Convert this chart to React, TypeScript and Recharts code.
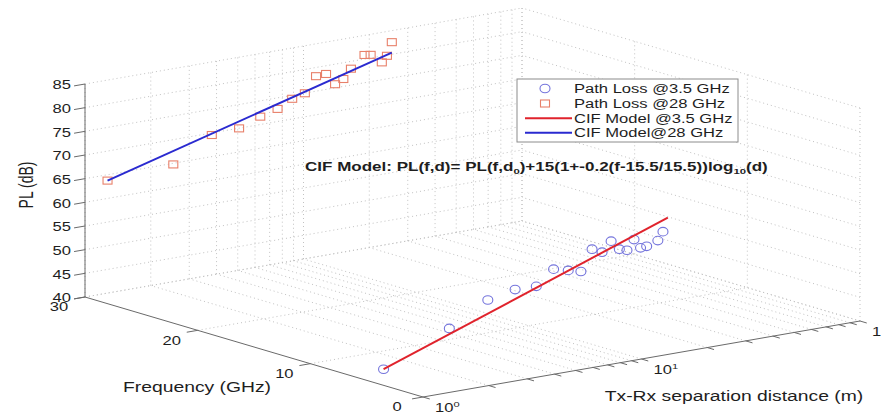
import React, { useLayoutEffect, useRef, useState } from 'react';
import { ScatterChart, Scatter, XAxis, YAxis, ReferenceLine } from 'recharts';

// ---------- data ----------
const distance35 = [1, 2, 3, 4, 5, 6, 7, 8, 9, 10, 11, 12, 13, 14, 15, 16, 18, 19];
const pathLoss35 = [43.4, 49.6, 54.2, 55.4, 55.3, 58.3, 57.5, 56.8, 61.1, 60.1, 62.1, 60.1, 59.6, 61.6, 59.6, 59.7, 60.5, 62.2];
const distance28 = [1, 2, 3, 4, 5, 6, 7, 8, 9, 10, 11, 12, 13, 15, 16, 18, 19, 20];
const pathLoss28 = [66.0, 67.0, 71.8, 72.2, 73.9, 74.9, 76.5, 77.2, 80.4, 80.5, 78.0, 78.8, 80.7, 83.1, 82.9, 80.9, 82.1, 84.8];
const modelDistance = [1, 20];
const model35 = [43.4, 65.0];
const model28 = [66.0, 82.6];
const freqLow = 3.5;
const freqHigh = 28;

const plTicks = [40, 45, 50, 55, 60, 65, 70, 75, 80, 85];
const freqTicks = [0, 10, 20, 30];
const distTicks = [1, 2, 3, 4, 5, 6, 7, 8, 9, 10, 20, 30, 40, 50, 60, 70, 80, 90, 100];
const distMajor = [1, 10, 100];
const distExponents = ['0', '1', '2'];
const legendLabels = ['Path Loss @3.5 GHz', 'Path Loss @28 GHz', 'CIF Model @3.5 GHz', 'CIF Model@28 GHz'];

// ---------- 3D view projection (page pixel space) ----------
const D_MIN = 1, D_MAX = 100, F_MIN = 0, F_MAX = 30, PL_MIN = 40, PL_MAX = 85;
function project(d: number, f: number, pl: number) {
  const u = (Math.log10(d) - Math.log10(D_MIN)) / (Math.log10(D_MAX) - Math.log10(D_MIN));
  const v = (f - F_MIN) / (F_MAX - F_MIN);
  const w = (pl - PL_MIN) / (PL_MAX - PL_MIN);
  return { x: 423 + 437 * u - 338 * v, y: 397 - 76 * u - 100 * v - 213 * w };
}

const W = 881, H = 407, OFF = 8;
const FONT = 'Arial, "Liberation Sans", Helvetica, sans-serif';
const SX = 1.38;
const TXT = '#1e1e1e';

type Seg = [{ x: number; y: number }, { x: number; y: number }];
const seg = (a: { x: number; y: number }, b: { x: number; y: number }): Seg => [a, b];

// gridlines
const grid: Seg[] = [];
// floor (PL = 40)
freqTicks.forEach((f) => { if (f > 0) grid.push(seg(project(D_MIN, f, PL_MIN), project(D_MAX, f, PL_MIN))); });
distTicks.forEach((d) => { if (d > 1) grid.push(seg(project(d, F_MIN, PL_MIN), project(d, F_MAX, PL_MIN))); });
// back-left wall (f = 30)
distTicks.forEach((d) => grid.push(seg(project(d, F_MAX, PL_MIN), project(d, F_MAX, PL_MAX))));
plTicks.forEach((p) => grid.push(seg(project(D_MIN, F_MAX, p), project(D_MAX, F_MAX, p))));
// back-right wall (d = 100)
freqTicks.forEach((f) => grid.push(seg(project(D_MAX, f, PL_MIN), project(D_MAX, f, PL_MAX))));
plTicks.forEach((p) => grid.push(seg(project(D_MAX, F_MIN, p), project(D_MAX, F_MAX, p))));

// axes and ticks
const axes: Seg[] = [
  seg(project(D_MIN, F_MAX, PL_MIN), project(D_MIN, F_MAX, PL_MAX)),
  seg(project(D_MIN, F_MIN, PL_MIN), project(D_MIN, F_MAX, PL_MIN)),
  seg(project(D_MIN, F_MIN, PL_MIN), project(D_MAX, F_MIN, PL_MIN)),
];
const tickOut = Math.pow(10, -0.05);
plTicks.forEach((p) => axes.push(seg(project(D_MIN, F_MAX, p), project(tickOut, F_MAX, p))));
freqTicks.forEach((f) => axes.push(seg(project(D_MIN, f, PL_MIN), project(tickOut, f, PL_MIN))));
distTicks.forEach((d) => axes.push(seg(project(d, F_MIN, PL_MIN), project(d, -0.6, PL_MIN))));

const pts35 = distance35.map((d, i) => project(d, freqLow, pathLoss35[i]));
const pts28 = distance28.map((d, i) => project(d, freqHigh, pathLoss28[i]));
const line35 = modelDistance.map((d, i) => project(d, freqLow, model35[i]));
const line28 = modelDistance.map((d, i) => project(d, freqHigh, model28[i]));

const BLUE_MK = '#7474dc';
const RED_MK = '#e8806a';
const RED_LN = '#e0232c';
const BLUE_LN = '#2a2ad0';

const Circle = (p: any) => <ellipse cx={p.cx} cy={p.cy} rx={5} ry={4.3} fill="none" stroke={BLUE_MK} strokeWidth={1.1} />;
const Square = (p: any) => <rect x={p.cx - 4.5} y={p.cy - 3.5} width={9} height={7} fill="none" stroke={RED_MK} strokeWidth={1.1} />;
const NoShape = () => <g />;

function T({ x, y, anchor = 'start', size = 12, weight = 'normal', children }: any) {
  return (
    <g transform={`translate(${x - OFF},${y - OFF}) scale(${SX},1)`}>
      <text x={0} y={0} dy="0.35em" textAnchor={anchor} fontSize={size} fontWeight={weight} fontFamily={FONT} fill={TXT}>
        {children}
      </text>
    </g>
  );
}

function FitText({ x, y, width, size = 12, weight = 'normal', children }: any) {
  const ref = useRef<SVGTextElement>(null);
  const [k, setK] = useState(SX);
  useLayoutEffect(() => {
    const el = ref.current;
    if (!el) return;
    const w = el.getBBox().width;
    if (w > 0) setK(width / w);
  }, [width]);
  return (
    <g transform={`translate(${x - OFF},${y - OFF}) scale(${k},1)`}>
      <text ref={ref} x={0} y={0} dy="0.35em" fontSize={size} fontWeight={weight} fontFamily={FONT} fill={TXT}>
        {children}
      </text>
    </g>
  );
}

export default function App() {
  const legendRows = [88.5, 103.5, 118.3, 132.8];
  return (
    <div style={{ position: 'relative', width: W, height: H }}>
      <ScatterChart width={W} height={H} margin={{ top: 0, right: 0, bottom: 0, left: 0 }}>
        <XAxis type="number" dataKey="x" domain={[OFF, W + OFF]} hide allowDataOverflow />
        <YAxis type="number" dataKey="y" domain={[OFF, H + OFF]} reversed hide allowDataOverflow />
        {grid.map((s, i) => (
          <ReferenceLine key={'g' + i} segment={s} stroke="#c2c2c2" strokeWidth={1} strokeDasharray="1 3" ifOverflow="visible" />
        ))}
        {axes.map((s, i) => (
          <ReferenceLine key={'a' + i} segment={s} stroke="#6a6a6a" strokeWidth={1} ifOverflow="visible" />
        ))}
        <Scatter name="Path Loss @3.5 GHz" data={pts35} shape={Circle} isAnimationActive={false} />
        <Scatter name="Path Loss @28 GHz" data={pts28} shape={Square} isAnimationActive={false} />
        <Scatter name="CIF Model @3.5 GHz" data={line35} line={{ stroke: RED_LN, strokeWidth: 2 }} shape={NoShape} isAnimationActive={false} />
        <Scatter name="CIF Model@28 GHz" data={line28} line={{ stroke: BLUE_LN, strokeWidth: 2 }} shape={NoShape} isAnimationActive={false} />
      </ScatterChart>
      <svg width={W} height={H} style={{ position: 'absolute', left: 0, top: 0, pointerEvents: 'none' }}>
        {/* PL tick labels */}
        {plTicks.map((p) => (
          <T key={'pl' + p} x={71} y={project(D_MIN, F_MAX, p).y + 1} anchor="end">{p}</T>
        ))}
        {/* frequency tick labels */}
        {freqTicks.map((f) => {
          const q = project(D_MIN, f, PL_MIN);
          return <T key={'f' + f} x={q.x - 26} y={q.y + 10} anchor="middle">{f}</T>;
        })}
        {/* distance tick labels */}
        {distMajor.map((d, i) => {
          const q = project(d, F_MIN, PL_MIN);
          return (
            <T key={'d' + d} x={q.x + 12} y={q.y + 11}>
              10<tspan dy={-5} fontSize={8}>{distExponents[i]}</tspan>
            </T>
          );
        })}
        {/* axis titles */}
        <g transform={`translate(${26 - OFF},${185 - OFF}) scale(${SX},1) rotate(-90)`}>
          <text x={0} y={0} dy="0.35em" textAnchor="middle" fontSize={14} fontFamily={FONT} fill={TXT}>PL (dB)</text>
        </g>
        <T x={197} y={387} anchor="middle" size={14}>Frequency (GHz)</T>
        <T x={734} y={396} anchor="middle" size={14}>Tx-Rx separation distance (m)</T>
        {/* legend */}
        <rect x={517 - OFF} y={79 - OFF} width={221} height={63} fill="#ffffff" stroke="#8c8c8c" strokeWidth={1} />
        <ellipse cx={545 - OFF} cy={legendRows[0] - OFF} rx={5} ry={4.3} fill="none" stroke={BLUE_MK} strokeWidth={1.1} />
        <rect x={545 - 4.5 - OFF} y={legendRows[1] - 3.5 - OFF} width={9} height={7} fill="none" stroke={RED_MK} strokeWidth={1.1} />
        <line x1={525 - OFF} x2={572 - OFF} y1={legendRows[2] - OFF} y2={legendRows[2] - OFF} stroke={RED_LN} strokeWidth={2} />
        <line x1={525 - OFF} x2={572 - OFF} y1={legendRows[3] - OFF} y2={legendRows[3] - OFF} stroke={BLUE_LN} strokeWidth={2} />
        {legendLabels.map((l, i) => (
          <T key={l} x={574} y={legendRows[i]}>{l}</T>
        ))}
        {/* model annotation */}
        <FitText x={305} y={167} width={463} size={12} weight="bold">
          CIF Model: PL(f,d)= PL(f,d<tspan dy={3} fontSize={8}>0</tspan>
          <tspan dy={-3}>)+15(1+-0.2(f-15.5/15.5))log</tspan>
          <tspan dy={3} fontSize={8}>10</tspan>
          <tspan dy={-3}>(d)</tspan>
        </FitText>
      </svg>
    </div>
  );
}
